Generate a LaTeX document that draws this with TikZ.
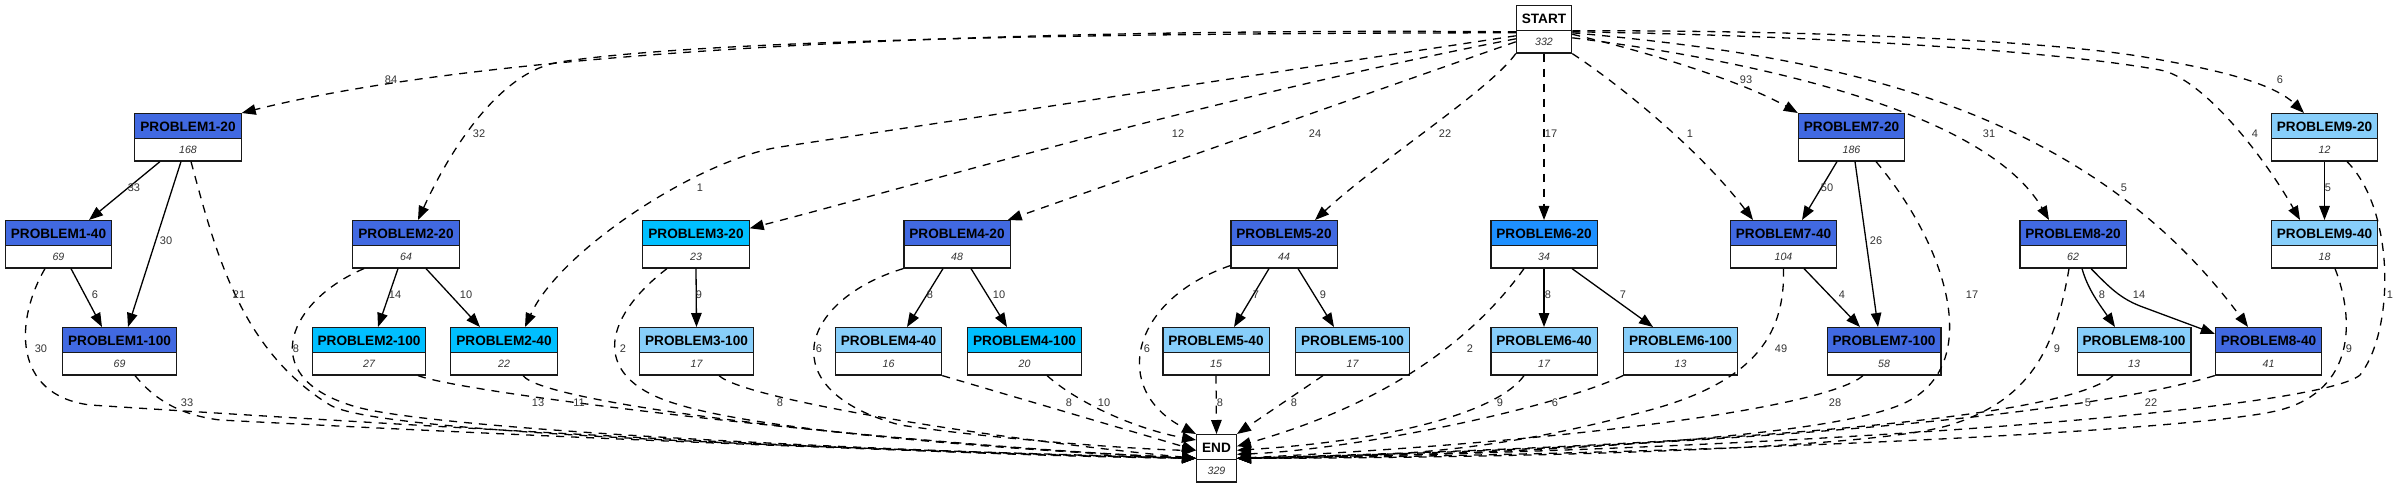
\documentclass[tikz,border=0pt]{standalone}
\usepackage{fontspec}
\setmainfont{Liberation Sans}
\usepackage{tikz}
\usetikzlibrary{arrows.meta,shapes.multipart}
\definecolor{royal}{RGB}{65,105,225}
\definecolor{deepsky}{RGB}{0,191,255}
\definecolor{dodger}{RGB}{30,144,255}
\definecolor{lightsky}{RGB}{135,206,250}
\newcommand{\pname}[1]{\rule[-7.1pt]{0pt}{24pt}{\fontsize{13.6}{16}\selectfont\bfseries #1}}
\newcommand{\pcount}[1]{\rule[-6.7pt]{0pt}{21pt}{\fontsize{10.6}{12}\selectfont\itshape\color{black!80}#1}}

\begin{document}
\begin{tikzpicture}[x=1pt, y=-1pt, >={Triangle[length=14pt,width=10.5pt]},
      prob/.style={rectangle split, rectangle split parts=2, anchor=north,
                   draw=black!90, line width=1.2pt, inner xsep=5.5pt, inner ysep=0pt,
                   rectangle split part fill={#1,white}},
      lbl/.style={font=\fontsize{11}{13}\selectfont, text=black!80, inner sep=1pt},
      flow/.style={->, line width=1.3pt},
      dflow/.style={flow, dash pattern=on 8pt off 7pt}]
    \useasboundingbox (0,0) rectangle (2400,486);

    \node[prob=white]    (start)  at (1544,5)   {\pname{START}\nodepart{two}\pcount{332}};
    \node[prob=white]    (end)    at (1216.5,434) {\pname{END}\nodepart{two}\pcount{329}};
    \node[prob=royal]    (p1_20)  at (188,113)  {\pname{PROBLEM1-20}\nodepart{two}\pcount{168}};
    \node[prob=royal]    (p1_40)  at (58.5,220) {\pname{PROBLEM1-40}\nodepart{two}\pcount{69}};
    \node[prob=royal]    (p1_100) at (119.5,327) {\pname{PROBLEM1-100}\nodepart{two}\pcount{69}};
    \node[prob=royal]    (p2_20)  at (406,220)  {\pname{PROBLEM2-20}\nodepart{two}\pcount{64}};
    \node[prob=deepsky]  (p2_100) at (369,327)  {\pname{PROBLEM2-100}\nodepart{two}\pcount{27}};
    \node[prob=deepsky]  (p2_40)  at (504,327)  {\pname{PROBLEM2-40}\nodepart{two}\pcount{22}};
    \node[prob=deepsky]  (p3_20)  at (696,220)  {\pname{PROBLEM3-20}\nodepart{two}\pcount{23}};
    \node[prob=lightsky] (p3_100) at (696.5,327) {\pname{PROBLEM3-100}\nodepart{two}\pcount{17}};
    \node[prob=royal]    (p4_20)  at (957,220)  {\pname{PROBLEM4-20}\nodepart{two}\pcount{48}};
    \node[prob=lightsky] (p4_40)  at (888.5,327) {\pname{PROBLEM4-40}\nodepart{two}\pcount{16}};
    \node[prob=deepsky]  (p4_100) at (1024.5,327) {\pname{PROBLEM4-100}\nodepart{two}\pcount{20}};
    \node[prob=royal]    (p5_20)  at (1284,220) {\pname{PROBLEM5-20}\nodepart{two}\pcount{44}};
    \node[prob=lightsky] (p5_40)  at (1216,327) {\pname{PROBLEM5-40}\nodepart{two}\pcount{15}};
    \node[prob=lightsky] (p5_100) at (1352.5,327) {\pname{PROBLEM5-100}\nodepart{two}\pcount{17}};
    \node[prob=dodger]   (p6_20)  at (1544,220) {\pname{PROBLEM6-20}\nodepart{two}\pcount{34}};
    \node[prob=lightsky] (p6_40)  at (1544,327) {\pname{PROBLEM6-40}\nodepart{two}\pcount{17}};
    \node[prob=lightsky] (p6_100) at (1680.5,327) {\pname{PROBLEM6-100}\nodepart{two}\pcount{13}};
    \node[prob=royal]    (p7_20)  at (1851.5,113) {\pname{PROBLEM7-20}\nodepart{two}\pcount{186}};
    \node[prob=royal]    (p7_40)  at (1783.5,220) {\pname{PROBLEM7-40}\nodepart{two}\pcount{104}};
    \node[prob=royal]    (p7_100) at (1884,327) {\pname{PROBLEM7-100}\nodepart{two}\pcount{58}};
    \node[prob=royal]    (p8_20)  at (2073,220) {\pname{PROBLEM8-20}\nodepart{two}\pcount{62}};
    \node[prob=lightsky] (p8_100) at (2134,327) {\pname{PROBLEM8-100}\nodepart{two}\pcount{13}};
    \node[prob=royal]    (p8_40)  at (2268.5,327) {\pname{PROBLEM8-40}\nodepart{two}\pcount{41}};
    \node[prob=lightsky] (p9_20)  at (2324.5,113) {\pname{PROBLEM9-20}\nodepart{two}\pcount{12}};
    \node[prob=lightsky] (p9_40)  at (2324.5,220) {\pname{PROBLEM9-40}\nodepart{two}\pcount{18}};

    % from START
    \draw[dflow] ([yshift=-2.5pt]start.west) .. controls (1000,28) and (500,48) .. (p1_20.north east) node[lbl] at (391,80) {84};
    \draw[dflow] ([yshift=-3.5pt]start.west) .. controls (1100,33) and (700,40) .. (560,62) .. controls (500,71) and (450,150) .. ([xshift=12pt]p2_20.north) node[lbl] at (479,134) {32};
    \draw[dflow] ([yshift=-6.5pt]start.west) -- (780,147) .. controls (700,159) and (560,250) .. ([xshift=21pt]p2_40.north) node[lbl] at (700,188) {1};
    \draw[dflow] ([yshift=-9.5pt]start.west) .. controls (1200,100) and (900,190) .. ([yshift=16pt]p3_20.east) node[lbl] at (1178,134) {12};
    \draw[dflow] ([yshift=-12.5pt]start.west) -- ([xshift=-3pt]p4_20.north east) node[lbl] at (1315,134) {24};
    \draw[dflow] (start.south west) .. controls (1490,90) and (1380,160) .. ([xshift=31pt]p5_20.north) node[lbl] at (1445,134) {22};
    \draw[dflow] (start.south) -- (p6_20.north) node[lbl] at (1551,134) {17};
    \draw[dflow] (start.south east) .. controls (1620,85) and (1700,150) .. ([xshift=-30.5pt]p7_40.north) node[lbl] at (1690,134) {1};
    \draw[dflow] ([yshift=-5pt]start.east) .. controls (1640,50) and (1740,80) .. (p7_20.north west) node[lbl] at (1746,80) {93};
    \draw[dflow] ([yshift=-8.5pt]start.east) .. controls (1750,60) and (1985,110) .. ([xshift=-24pt]p8_20.north) node[lbl] at (1989,134) {31};
    \draw[dflow] ([yshift=-3.5pt]start.east) .. controls (1820,55) and (2080,100) .. ([xshift=-20.5pt]p8_40.north) node[lbl] at (2124,188) {5};
    \draw[dflow] ([yshift=-2.5pt]start.east) .. controls (1800,35) and (2050,50) .. (2160,70) .. controls (2200,77) and (2260,150) .. ([xshift=-24.5pt]p9_40.north) node[lbl] at (2255,134) {4};
    \draw[dflow] ([yshift=-1.5pt]start.east) .. controls (1800,30) and (2050,40) .. (2150,58) .. controls (2200,67) and (2270,80) .. ([xshift=-20.5pt]p9_20.north) node[lbl] at (2280,80) {6};

    % between problems
    \draw[flow] ([xshift=-28pt]p1_20.south) -- ([xshift=30.5pt]p1_40.north) node[lbl] at (134,188) {33};
    \draw[flow] ([xshift=-7pt]p1_20.south) -- ([xshift=8.5pt]p1_100.north) node[lbl] at (166,241) {30};
    \draw[flow] ([xshift=12.5pt]p1_40.south) -- ([xshift=-17.5pt]p1_100.north) node[lbl] at (95,295) {6};
    \draw[flow] ([xshift=-8pt]p2_20.south) -- ([xshift=9pt]p2_100.north) node[lbl] at (395,295) {14};
    \draw[flow] ([xshift=20pt]p2_20.south) -- ([xshift=-24pt]p2_40.north) node[lbl] at (466,295) {10};
    \draw[flow] (p3_20.south) -- (p3_100.north) node[lbl] at (699,295) {9};
    \draw[flow] ([xshift=-14pt]p4_20.south) -- ([xshift=18.5pt]p4_40.north) node[lbl] at (930,295) {8};
    \draw[flow] ([xshift=14pt]p4_20.south) -- ([xshift=-17.5pt]p4_100.north) node[lbl] at (999,295) {10};
    \draw[flow] ([xshift=-15pt]p5_20.south) -- ([xshift=18pt]p5_40.north) node[lbl] at (1256,295) {7};
    \draw[flow] ([xshift=14pt]p5_20.south) -- ([xshift=-18.5pt]p5_100.north) node[lbl] at (1323,295) {9};
    \draw[flow] (p6_20.south) -- (p6_40.north) node[lbl] at (1548,295) {8};
    \draw[flow] ([xshift=28pt]p6_20.south) -- ([xshift=-27.5pt]p6_100.north) node[lbl] at (1623,295) {7};
    \draw[flow] ([xshift=-14.5pt]p7_20.south) -- ([xshift=18.5pt]p7_40.north) node[lbl] at (1827,188) {50};
    \draw[flow] ([xshift=3.5pt]p7_20.south) -- ([xshift=-6pt]p7_100.north) node[lbl] at (1876,241) {26};
    \draw[flow] ([xshift=20.5pt]p7_40.south) -- ([xshift=-24pt]p7_100.north) node[lbl] at (1842,295) {4};
    \draw[flow] ([xshift=9pt]p8_20.south) .. controls (2088,290) and (2100,305) .. ([xshift=-19pt]p8_100.north) node[lbl] at (2102,295) {8};
    \draw[flow] ([xshift=18pt]p8_20.south) .. controls (2110,288) and (2120,298) .. (2140,306) -- ([yshift=17.5pt]p8_40.west) node[lbl] at (2139,295) {14};
    \draw[flow] (p9_20.south) -- (p9_40.north) node[lbl] at (2328,188) {5};

    % into END
    \draw[dflow] ([xshift=-13.5pt]p1_40.south) .. controls (15,320) and (12,395) .. (90,405) .. controls (400,425) and (900,455) .. (end.west) node[lbl] at (41,349) {30};
    \draw[dflow] ([xshift=15.5pt]p1_100.south) .. controls (155,400) and (180,415) .. (220,420) .. controls (600,440) and (1000,455) .. (end.west) node[lbl] at (187,403) {33};
    \draw[dflow] ([xshift=3pt]p1_20.south) .. controls (215,250) and (240,350) .. (330,405) .. controls (380,436) and (900,450) .. (end.west) node[lbl] at (239,295) {21};
    \draw[dflow] ([xshift=-42pt]p2_20.south) .. controls (290,300) and (255,375) .. (350,405) .. controls (420,430) and (900,452) .. (end.west) node[lbl] at (296,349) {8};
    \draw[dflow] ([xshift=49pt]p2_100.south) .. controls (470,395) and (900,445) .. (end.west) node[lbl] at (538,403) {13};
    \draw[dflow] ([xshift=19pt]p2_40.south) .. controls (545,405) and (900,445) .. (end.west) node[lbl] at (579,403) {11};
    \draw[dflow] ([xshift=-29pt]p3_20.south) .. controls (600,320) and (590,380) .. (680,405) .. controls (760,430) and (1000,450) .. (end.west) node[lbl] at (623,349) {2};
    \draw[dflow] ([xshift=22.5pt]p3_100.south) .. controls (745,400) and (1000,440) .. (end.west) node[lbl] at (780,403) {8};
    \draw[dflow] (p4_20.south west) .. controls (800,300) and (770,390) .. (900,425) .. controls (1000,440) and (1150,450) .. ([yshift=8pt]end.west) node[lbl] at (819,349) {6};
    \draw[dflow] (p4_40.south east) -- ([yshift=8pt]end.west) node[lbl] at (1069,403) {8};
    \draw[dflow] ([xshift=22.5pt]p4_100.south) .. controls (1080,405) and (1140,430) .. ([yshift=-6pt]end.north west) node[lbl] at (1104,403) {10};
    \draw[dflow] ([yshift=3pt]p5_20.south west) .. controls (1130,300) and (1110,390) .. (end.north west) node[lbl] at (1147,349) {6};
    \draw[dflow] (p5_40.south) -- (end.north) node[lbl] at (1220,403) {8};
    \draw[dflow] ([xshift=-29.5pt]p5_100.south) -- (end.north east) node[lbl] at (1294,403) {8};
    \draw[dflow] ([xshift=-20pt]p6_20.south) .. controls (1480,330) and (1400,400) .. ([yshift=12pt]end.east) node[lbl] at (1470,349) {2};
    \draw[dflow] ([xshift=-20pt]p6_40.south) .. controls (1500,410) and (1400,440) .. ([yshift=8pt]end.east) node[lbl] at (1500,403) {9};
    \draw[dflow] (p6_100.south west) .. controls (1550,410) and (1350,450) .. ([yshift=4pt]end.east) node[lbl] at (1555,403) {6};
    \draw[dflow] (p7_40.south) .. controls (1785,330) and (1760,380) .. (1650,410) .. controls (1500,451) and (1400,457) .. (end.east) node[lbl] at (1781,349) {49};
    \draw[dflow] ([xshift=-21pt]p7_100.south) .. controls (1830,405) and (1600,440) .. (end.east) node[lbl] at (1835,403) {28};
    \draw[dflow] ([xshift=24.5pt]p7_20.south) .. controls (1950,250) and (1985,370) .. (1900,405) .. controls (1815,440) and (1500,455) .. (end.east) node[lbl] at (1972,295) {17};
    \draw[dflow] ([xshift=-4pt]p8_20.south) .. controls (2055,350) and (2030,400) .. (1950,425) .. controls (1870,450) and (1500,458) .. (end.east) node[lbl] at (2057,349) {9};
    \draw[dflow] ([xshift=-21pt]p8_100.south) .. controls (2080,405) and (1900,440) .. (end.east) node[lbl] at (2088,403) {5};
    \draw[dflow] (p8_40.south west) .. controls (2100,410) and (1800,445) .. (end.east) node[lbl] at (2151,403) {22};
    \draw[dflow] ([xshift=10.5pt]p9_40.south) .. controls (2355,320) and (2355,390) .. (2280,410) .. controls (2200,431) and (1700,455) .. (end.east) node[lbl] at (2349,349) {9};
    \draw[dflow] ([xshift=22.5pt]p9_20.south) .. controls (2395,210) and (2395,330) .. (2360,375) .. controls (2320,410) and (1800,450) .. (end.east) node[lbl] at (2390,295) {1};
  \end{tikzpicture}
\end{document}
